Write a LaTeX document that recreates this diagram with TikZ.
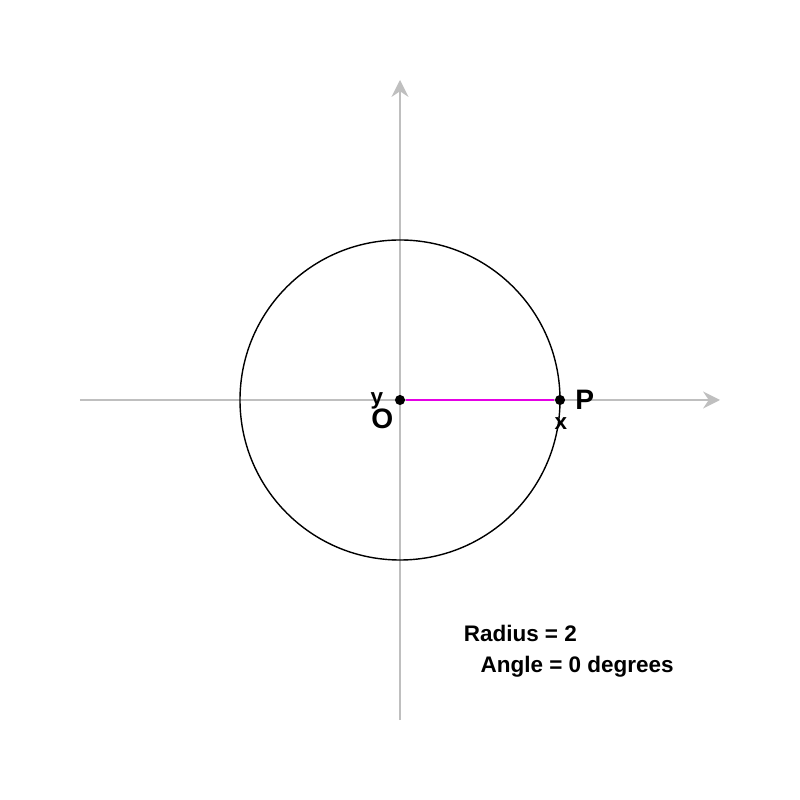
\documentclass[tikz,border=0pt]{standalone}
\usepackage{fontspec}
\setmainfont{Liberation Sans}
\usepackage{tikz}
\usetikzlibrary{arrows.meta,positioning}
\definecolor{axisGray}{gray}{0.75}
\definecolor{radMag}  {rgb}{0.9,0.0,0.9}

\begin{document}
\begin{tikzpicture}[
      axis/.style={draw=axisGray, line width=0.7pt,
                   -{Stealth[length=6pt, width=6pt, inset=2pt]}},
      dot/.style={circle, fill=black, inner sep=0pt, minimum size=3.6pt},
      lbl/.style={font=\bfseries\fontsize{10}{11}\selectfont, inner sep=0pt},
      small/.style={font=\bfseries\fontsize{8}{9}\selectfont, inner sep=0pt},
      info/.style={font=\bfseries\fontsize{8}{9}\selectfont, inner sep=0pt,
                   anchor=west}]
    \useasboundingbox (-5,-5) rectangle (5,5);

    \coordinate (xl) at (-4,0);
    \coordinate (xr) at ( 4,0);
    \coordinate (yb) at (0,-4);
    \coordinate (yt) at (0, 4);

    \draw[axis] (xl) -- (xr);
    \draw[axis] (yb) -- (yt);

    \node[dot] (o) at (0,0) {};
    \node[dot] (p) at (2,0) {};

    \draw[line width=0.5pt] (o.center) circle (2);
    \draw[radMag, line width=0.6pt] (o) -- (p);

    \node[small] (ylab) at (-0.29,-0.01) {y};
    \node[lbl]   (olab) at (-0.22,-0.24) {O};
    \node[small] (xlab) at ( 2.01,-0.30) {x};
    \node[lbl]   (plab) at ( 2.31, 0.0)  {P};

    \node[info] (rad) at (0.79,-2.92) {Radius = 2};
    \node[info] (ang) at (1.00,-3.33) {Angle = 0 degrees};
  \end{tikzpicture}
\end{document}
